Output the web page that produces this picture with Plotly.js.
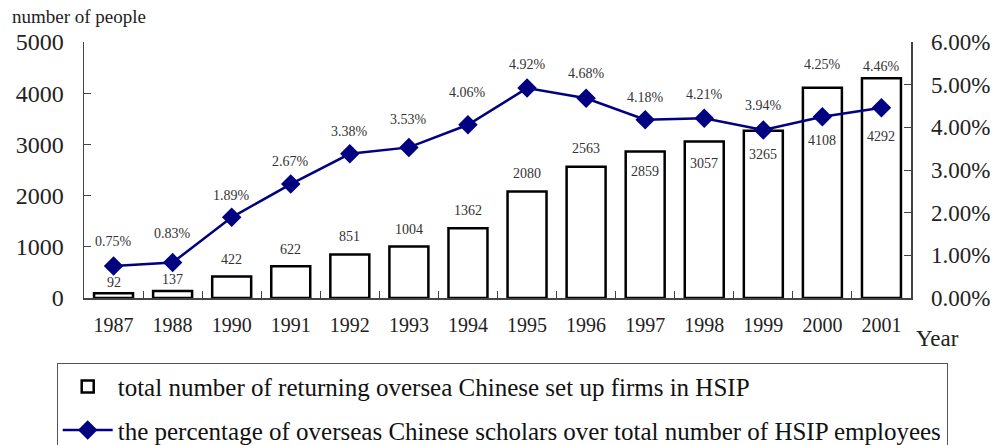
<!DOCTYPE html>
<html>
<head>
<meta charset="utf-8">
<script src="https://cdn.plot.ly/plotly-3.0.1.min.js"></script>
<style>html,body{margin:0;padding:0;background:#fff;}#chart{width:994px;height:445px;}</style>
</head>
<body>
<div id="chart"></div>
<script>
// ---- data ----
const years = ['1987','1988','1990','1991','1992','1993','1994','1995','1996','1997','1998','1999','2000','2001'];
const firms = [92,137,422,622,851,1004,1362,2080,2563,2859,3057,3265,4108,4292];
const percents = [0.75,0.83,1.89,2.67,3.38,3.53,4.06,4.92,4.68,4.18,4.21,3.94,4.25,4.46];
const barName = 'total number of returning oversea Chinese set up firms in HSIP';
const lineName = 'the percentage of overseas Chinese scholars over total number of HSIP employees';

// ---- label offsets (style, px) ----
const pctShift = [25,29,22,23,22,28,32,24,25,22,24,24,52,41];
const barShift = [11,11,17,17,18,17,18,18,18,-20,-22,-24,-53,-58];

const font = "'Liberation Serif', 'Times New Roman', serif";
const annotations = [];
years.forEach((y,i)=>{
  annotations.push({x:i, y:percents[i], xref:'x', yref:'y2', text:percents[i].toFixed(2)+'%',
    showarrow:false, yshift:pctShift[i], font:{family:font, size:14, color:'#333'}});
  annotations.push({x:i, y:firms[i], xref:'x', yref:'y', text:String(firms[i]),
    showarrow:false, yshift:barShift[i], font:{family:font, size:14, color:'#333'}});
});
annotations.push({x:-0.0895, y:1.098, xref:'paper', yref:'paper', xanchor:'left', yanchor:'middle',
  text:'number of people', showarrow:false, font:{family:font, size:19, color:'#222'}});
annotations.push({x:1.004, y:-0.158, xref:'paper', yref:'paper', xanchor:'left', yanchor:'middle',
  text:'Year', showarrow:false, font:{family:font, size:23, color:'#222'}});

const traces = [
  {type:'bar', x:years, y:firms, name:barName, yaxis:'y', legendgroup:'a',
   marker:{color:'#ffffff', line:{color:'#000', width:2.5}}, hoverinfo:'skip'},
  {type:'scatter', mode:'lines+markers', x:years, y:percents, name:lineName, yaxis:'y2', legendgroup:'b',
   line:{color:'#000080', width:2.5}, marker:{symbol:'diamond', size:15, color:'#000080'}}
];

const layout = {
  width:994, height:445,
  margin:{l:84, r:83, t:42, b:147, autoexpand:false},
  paper_bgcolor:'#fff', plot_bgcolor:'#fff',
  font:{family:font, color:'#222'},
  bargap:0.34,
  showlegend:true,
  legend:{x:-0.033, y:-0.253, xanchor:'left', yanchor:'top', orientation:'v',
    bordercolor:'#555', borderwidth:1, bgcolor:'#fff', traceorder:'grouped',
    font:{family:font, size:25, color:'#111'}, itemwidth:50, tracegroupgap:8},
  xaxis:{type:'category', tickson:'boundaries', ticks:'inside', ticklen:7, tickcolor:'#444',
    showline:true, linecolor:'#444', linewidth:1.5, showgrid:false, zeroline:false,
    tickfont:{family:font, size:20, color:'#222'}, ticklabelstandoff:8,
    range:[-0.5,13.5], fixedrange:true},
  yaxis:{range:[0,5000], dtick:1000, ticks:'inside', ticklen:7, tickcolor:'#444',
    showline:true, linecolor:'#444', linewidth:1.5, showgrid:false, zeroline:false,
    tickfont:{family:font, size:24, color:'#222'}, ticklabelstandoff:14},
  yaxis2:{range:[0,6], dtick:1, overlaying:'y', side:'right', ticks:'inside', ticklen:7, tickcolor:'#444',
    showline:true, linecolor:'#444', linewidth:1.5, showgrid:false, zeroline:false,
    tickformat:'.2f', ticksuffix:'%',
    tickfont:{family:font, size:23, color:'#222'}, ticklabelstandoff:14},
  annotations:annotations
};

Plotly.newPlot('chart', traces, layout, {displayModeBar:false, staticPlot:true});
</script>
</body>
</html>
